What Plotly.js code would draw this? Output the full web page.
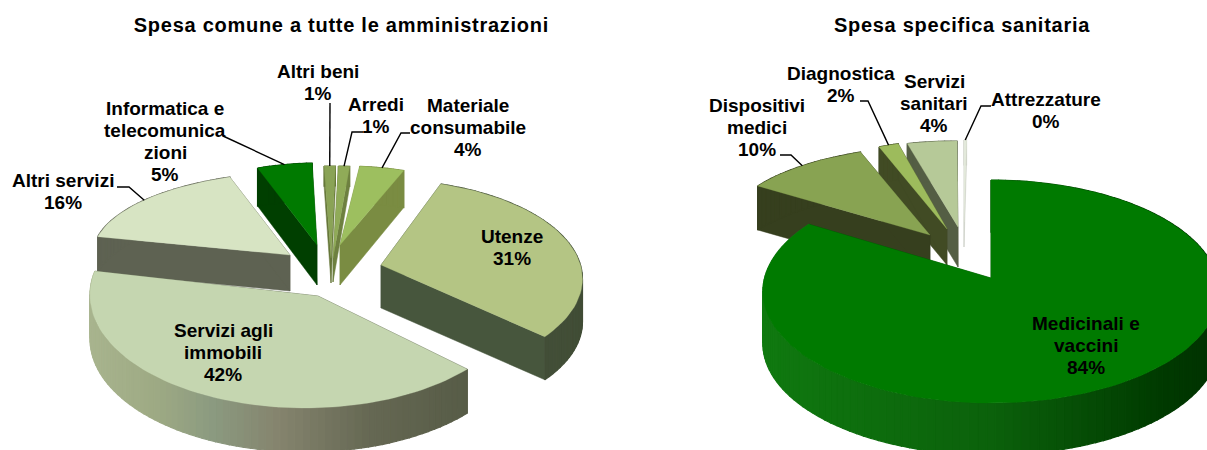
<!DOCTYPE html>
<html><head><meta charset="utf-8">
<script src="https://cdn.plot.ly/plotly-3.0.1.min.js"></script>
<style>html,body{margin:0;padding:0;background:#fff}#c{width:1207px;height:450px}</style>
</head><body><div id="c"></div>
<script>
// ---- data ----
const leftTitle = 'Spesa comune a tutte le amministrazioni';
const rightTitle = 'Spesa specifica sanitaria';
const leftLabels = ['Materiale<br>consumabile','Utenze','Servizi agli<br>immobili','Altri servizi','Informatica e<br>telecomunica<br>zioni','Altri beni','Arredi'];
const leftValues = [4,31,42,16,5,1,1];
const rightLabels = ['Medicinali e<br>vaccini','Dispositivi<br>medici','Diagnostica','Servizi<br>sanitari','Attrezzature'];
const rightValues = [84,10,2,4,0.2];

// ---- drawing parameters (one entry per slice) ----
const leftStart = 5, rightStart = 0;
const leftGeom = [
 {cx:344,cy:246,a:180,b:80,ax:340,ay:245,d:40,rd:37,top:'#9dbf5f',wall:'#7a8c42',lab:[468,127],lead:[[410,133],[401,133]],z:3},
 {cx:381,cy:267,a:200,b:98,p:0.12,ax:381,ay:265,d:43,top:'#b4c584',wall:'#47563d',rim:[[-1,'#4a563e'],[1,'#414d36']],lab:[512,247],z:6},
 {cx:305,cy:295,a:215,b:113,ax:318,ay:296,d:44,top:'#c5d6b0',wall:'#4f5540',rim:[[-1,'#a8b48e'],[-0.7,'#9eaa84'],[-0.43,'#8b9a80'],[-0.13,'#85846e'],[0.3,'#656853'],[1,'#4f5540']],lab:[223,352],z:5},
 {cx:302,cy:254,a:209,b:82,ax:290,ay:255,d:36,top:'#d7e4c3',wall:'#5e6252',lab:[63,191],lead:[[117,187],[129,187]],z:4},
 {cx:319,cy:245,a:178,b:82,ax:317,ay:245,d:40,rd:38,top:'#007a00',wall:'#003f00',lab:[165,141],lead:[[223,136]],z:0},
 {cx:331,cy:247,a:180,b:81,ax:331,ay:258,d:25,rd:20,top:'#8aa356',wall:'#66773a',lab:[318,82],lead:[[330,103]],z:1},
 {cx:334,cy:247,a:180,b:81,ax:333,ay:258,d:24,rd:20,top:'#90ab58',wall:'#6e8040',lab:[376,115],lead:[[363,132],[352,132]],z:2}
];
const rightGeom = [
 {cx:991,cy:280.4,a:227,b:110.4,p:0.1,ax:991,ay:278,d:52,top:'#007a00',wall:'#005000',rim:[[-1,'#107a10'],[0,'#0b610b'],[0.7,'#003a00'],[1,'#003000']],lab:[1086,345],z:9},
 {cx:940,cy:232,a:216,b:86,ax:930,ay:235,d:44,top:'#88a352',wall:'#363f1e',lab:[757,127],lead:[[780,155],[791,155]],z:3},
 {cx:938,cy:225,a:160,b:84,ax:947,ay:229,d:36,top:'#9dbb5c',wall:'#414b24',lab:[841,84],lead:[[860,101],[868,101]],z:2},
 {cx:957,cy:223,a:200,b:82,ax:958,ay:227,d:40,top:'#b6c998',wall:'#545e44',lab:[934,103],z:1},
 {cx:964,cy:222,a:200,b:82,ax:964,ay:222,d:25,top:'#e3e9db',wall:'#cfd3c8',lab:[1046,110],lead:[[991,106],[981,106]],z:0}
];
const fontFamily = 'Liberation Sans, Arial, sans-serif';
const labelSize = 19, labelStep = 22, titleSize = 20;

const rad = d => d*Math.PI/180;
const hex2 = h => [1,3,5].map(i=>parseInt(h.substr(i,2),16));
function ramp(stops,t){
  for(let i=0;i<stops.length-1;i++){
    const [t0,c0]=stops[i],[t1,c1]=stops[i+1];
    if(t<=t1){const f=Math.max(0,(t-t0)/(t1-t0));const a=hex2(c0),b=hex2(c1);
      return 'rgb('+a.map((v,k)=>Math.round(v+(b[k]-v)*f)).join(',')+')';}
  }
  return stops[stops.length-1][1];
}
const traces=[], annos=[];
const pt=(g,th,dz=0)=>{
  const s=1/(1+(g.p||0)*Math.cos(rad(th)));
  return [g.cx+g.a*s*Math.sin(rad(th)),g.cy-g.b*s*Math.cos(rad(th))+dz];
};
function poly(pts,color,lw=0){
  traces.push({type:'scatter',mode:'lines',x:pts.map(p=>p[0]),y:pts.map(p=>p[1]),fill:'toself',fillcolor:color,
    line:{width:lw,color:color},hoverinfo:'skip',showlegend:false});
}
function pie(values,labels,geom,start){
  let th=start; const slices=values.map((v,i)=>{const s={v,label:labels[i],g:geom[i],t0:th,t1:th+v*3.6};th=s.t1;return s;});
  slices.slice().sort((p,q)=>p.g.z-q.g.z).forEach(s=>{
    const g=s.g, A=[g.ax,g.ay], Ad=[g.ax,g.ay+g.d], rd=g.rd||g.d;
    [s.t0,s.t1].forEach(t=>poly([A,pt(g,t),pt(g,t,rd),Ad,A],g.wall,0.5));
    const n=Math.max(2,Math.ceil((s.t1-s.t0)/2));
    const ths=Array.from({length:n+1},(_,k)=>s.t0+(s.t1-s.t0)*k/n);
    for(let k=0;k<n;k++){
      const c=g.rim?ramp(g.rim,Math.sin(rad((ths[k]+ths[k+1])/2))):g.wall;
      poly([pt(g,ths[k]),pt(g,ths[k+1]),pt(g,ths[k+1],rd),pt(g,ths[k],rd),pt(g,ths[k])],c,1.2);
    }
    poly([A,...ths.map(t=>pt(g,t)),A],g.top,0.3);
  });
  slices.forEach(s=>{
    const g=s.g;
    if(g.lead){
      const end=pt(g,(s.t0+s.t1)/2);
      const line=[...g.lead,end];
      traces.push({type:'scatter',mode:'lines',x:line.map(p=>p[0]),y:line.map(p=>p[1]),line:{color:'#000',width:1.4},hoverinfo:'skip',showlegend:false});
    }
    const lines=(s.label+'<br>'+Math.round(s.v)+'%').split('<br>');
    lines.forEach((t,i)=>annos.push({x:g.lab[0],y:g.lab[1]+(i-(lines.length-1)/2)*labelStep,xref:'x',yref:'y',showarrow:false,
      xanchor:'center',yanchor:'middle',text:'<b>'+t+'</b>',font:{family:fontFamily,size:labelSize,color:'#000'}}));
  });
}
pie(leftValues,leftLabels,leftGeom,leftStart);
pie(rightValues,rightLabels,rightGeom,rightStart);
[[leftTitle,341],[rightTitle,962]].forEach(([t,x])=>annos.push({x,y:25,xref:'x',yref:'y',showarrow:false,xanchor:'center',yanchor:'middle',
  text:'<b>'+t+'</b>',font:{family:fontFamily,size:titleSize,color:'#000'}}));
Plotly.newPlot('c',traces,{
  width:1207,height:450,margin:{l:0,r:0,t:0,b:0},paper_bgcolor:'#fff',plot_bgcolor:'#fff',showlegend:false,
  xaxis:{range:[0,1207],visible:false,fixedrange:true},
  yaxis:{range:[450,0],visible:false,fixedrange:true},
  annotations:annos
},{staticPlot:true,displayModeBar:false}).then(()=>{
  const tx=[...document.querySelectorAll('#c .annotation-text')];
  tx.slice(-2).forEach(e=>e.style.letterSpacing='0.73px');
});
</script></body></html>
